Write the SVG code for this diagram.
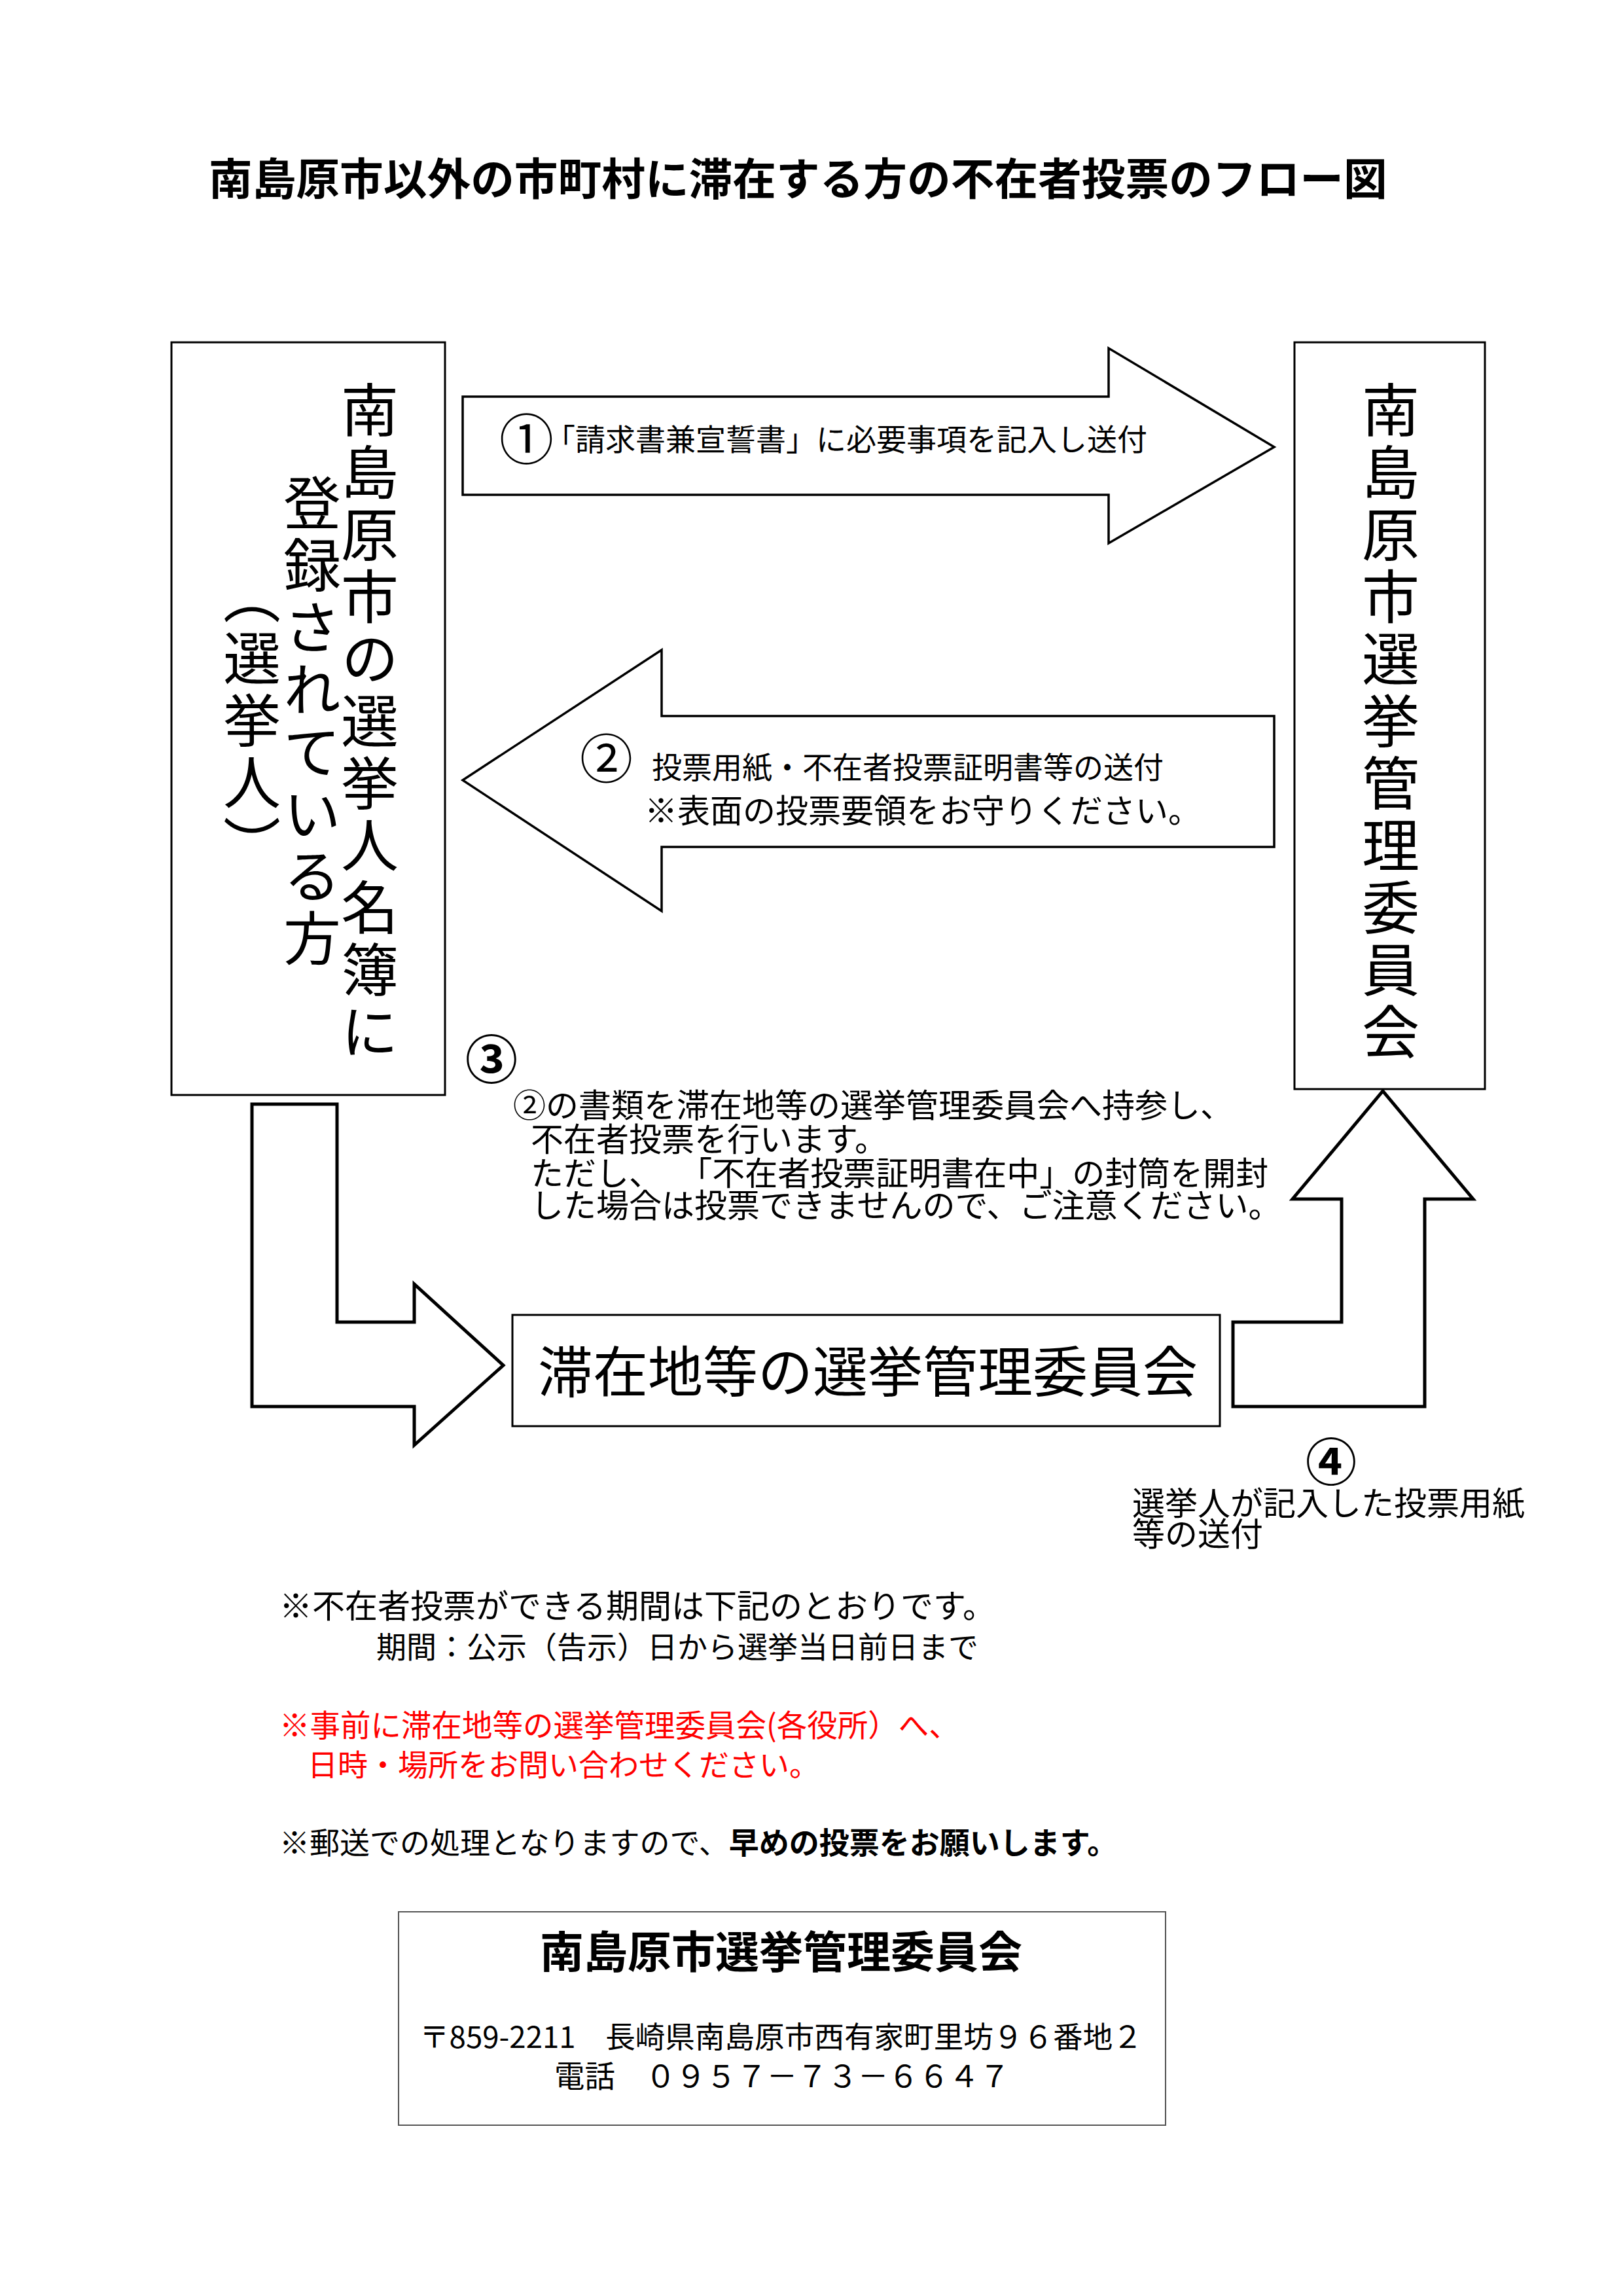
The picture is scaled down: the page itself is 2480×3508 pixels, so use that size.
<svg xmlns="http://www.w3.org/2000/svg" width="2480" height="3508" viewBox="0 0 2480 3508">
<style>
text{font-family:"Noto Sans CJK JP","Noto Sans",sans-serif;fill:#000;text-spacing-trim:space-all}
.box{fill:#fff;stroke:#000;stroke-width:3}
.arr{fill:#fff;stroke:#000;stroke-width:3.5;stroke-linejoin:miter}
.arrb{fill:#fff;stroke:#000;stroke-width:5;stroke-linejoin:miter}
.vt{writing-mode:vertical-rl;font-size:88px;letter-spacing:7px}
.b{font-weight:bold}
.red{fill:#ff0000}
</style>
<rect width="2480" height="3508" fill="#fff"/>
<text id="title" class="b" x="319" y="298" font-size="66.7">南島原市以外の市町村に滞在する方の不在者投票のフロー図</text>

<g id="connectors">
  <polygon id="arrow1" class="arr" points="707,606 1694,606 1694,532 1947,683 1694,830 1694,756 707,756"/>
  <polygon id="arrow2" class="arr" points="707,1192 1011,993 1011,1094 1947,1094 1947,1294 1011,1294 1011,1392"/>
  <polygon id="arrow3" class="arrb" points="385,1687 515,1687 515,2020 633,2020 633,1962 769,2086 633,2208 633,2149 385,2149"/>
  <polygon id="arrow4" class="arrb" points="1884,2020 2050,2020 2050,1832 1975,1832 2113,1667 2251,1832 2177,1832 2177,2149 1884,2149"/>
</g>

<g id="label1">
  <text x="763" y="702" font-size="83">①</text>
  <text x="833" y="688" font-size="46">「請求書兼宣誓書」に必要事項を記入し送付</text>
</g>
<g id="label2">
  <text x="886" y="1189" font-size="81">②</text>
  <text x="996" y="1189" font-size="46">投票用紙・不在者投票証明書等の送付</text>
  <text x="985" y="1257" font-size="50">※表面の投票要領をお守りください。</text>
</g>
<g id="label3">
  <text class="b" x="711" y="1648" font-size="80">③</text>
  <text x="784" y="1707" font-size="50">②の書類を滞在地等の選挙管理委員会へ持参し、</text>
  <text x="811" y="1759" font-size="50">不在者投票を行います。</text>
  <text x="811" y="1811" font-size="50">ただし、 <tspan dx="16">「不在者投票証明書在中」の封筒を開封</tspan></text>
  <text x="811" y="1860" font-size="50">した場合は投票できませんので、ご注意ください。</text>
</g>
<g id="label4">
  <text class="b" x="1995" y="2263" font-size="78">④</text>
  <text x="1730" y="2315" font-size="50">選挙人が記入した投票用紙</text>
  <text x="1730" y="2362" font-size="50">等の送付</text>
</g>

<g id="node-voter">
  <rect class="box" x="262" y="523" width="418" height="1150"/>
  <text class="vt" x="565" y="582">南島原市の選挙人名簿に</text>
  <text class="vt" x="477" y="724">登録されている方</text>
  <text class="vt" x="385" y="866">（選挙人）</text>
</g>

<g id="node-city-committee">
  <rect class="box" x="1978" y="523" width="291" height="1141"/>
  <text class="vt" x="2125" y="582">南島原市選挙管理委員会</text>
</g>

<g id="node-local-committee">
  <rect class="box" x="783" y="2009" width="1081" height="170"/>
  <text x="822" y="2127" font-size="84">滞在地等の選挙管理委員会</text>
</g>

<g id="notes">
  <text x="427" y="2472" font-size="50">※不在者投票ができる期間は下記のとおりです。</text>
  <text x="575" y="2533" font-size="46">期間：公示（告示）日から選挙当日前日まで</text>
  <text class="red" x="427" y="2653" font-size="46.5">※事前に滞在地等の選挙管理委員会(各役所）へ、</text>
  <text class="red" x="470" y="2713" font-size="46">日時・場所をお問い合わせください。</text>
  <text x="427" y="2832" font-size="46">※郵送での処理となりますので、<tspan class="b">早めの投票をお願いします。</tspan></text>
</g>

<g id="node-contact">
  <rect x="609" y="2921" width="1172" height="326" fill="#fff" stroke="#555" stroke-width="2"/>
  <text class="b" x="825" y="3007" font-size="67">南島原市選挙管理委員会</text>
  <text x="641" y="3129" font-size="45.6">〒859-2211　長崎県南島原市西有家町里坊９６番地２</text>
  <text x="847" y="3189" font-size="46.4">電話　０９５７－７３－６６４７</text>
</g>
</svg>
